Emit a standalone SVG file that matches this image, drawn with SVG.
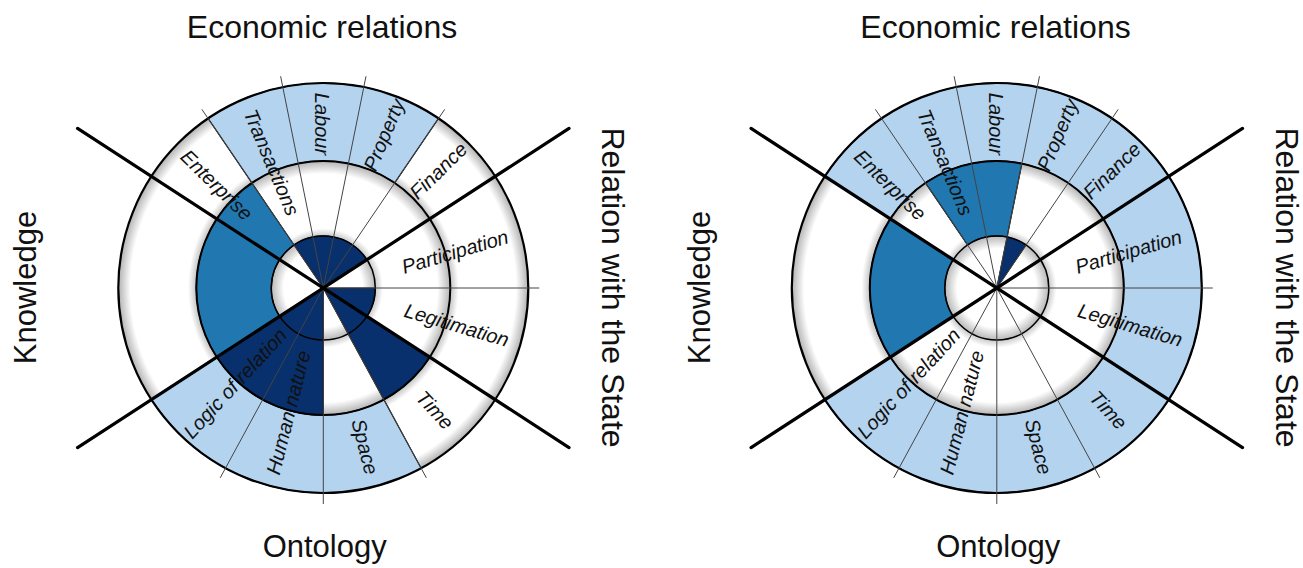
<svg xmlns="http://www.w3.org/2000/svg" xmlns:xlink="http://www.w3.org/1999/xlink" width="1303" height="568" viewBox="0 0 1303 568">
<style>
.lbl{font-family:"Liberation Sans",Arial,sans-serif;font-size:20px;font-style:italic;fill:#111;text-anchor:middle}
.ttl{font-family:"Liberation Sans",Arial,sans-serif;font-size:31px;fill:#111;text-anchor:middle}
.big{font-size:32px}
.light{fill:#b3d3ef;stroke:#111;stroke-width:1.2}
.med{fill:#2177b0;stroke:#111;stroke-width:1.2}
.dark{fill:#07306c;stroke:#111;stroke-width:1.2}
.thin{stroke:#444;stroke-width:1;fill:none}
.thick{stroke:#000;stroke-width:3.2;stroke-linecap:round;fill:none}
.ring{fill:none;stroke:#000}
</style>
<defs>
<radialGradient id="gOuter" gradientUnits="userSpaceOnUse" cx="0" cy="0" r="205">
<stop offset="0.619" stop-color="#c2c2c2"/><stop offset="0.66" stop-color="#fff"/><stop offset="0.94" stop-color="#fff"/><stop offset="1" stop-color="#b2b2b2"/>
</radialGradient>
<radialGradient id="gMid" gradientUnits="userSpaceOnUse" cx="0" cy="0" r="127">
<stop offset="0.409" stop-color="#c8c8c8"/><stop offset="0.47" stop-color="#fff"/><stop offset="0.9" stop-color="#fff"/><stop offset="1" stop-color="#b4b4b4"/>
</radialGradient>
<radialGradient id="gIn" gradientUnits="userSpaceOnUse" cx="0" cy="0" r="52">
<stop offset="0" stop-color="#fff"/><stop offset="0.76" stop-color="#fff"/><stop offset="1" stop-color="#b8b8b8"/>
</radialGradient>
<g id="base">
<circle r="205" fill="url(#gOuter)"/>
<circle r="127" fill="url(#gMid)"/>
<circle r="52" fill="url(#gIn)"/>
</g>
<g id="rings">
<circle class="ring" r="205" stroke-width="2.2"/>
<circle class="ring" r="127" stroke-width="2"/>
<circle class="ring" r="52" stroke-width="1.5"/>
</g>
<g id="dividers">
<path class="thin" d="M0,0L-121.41,-178.65M0,0L-42.69,-211.74M0,0L42.69,-211.74M0,0L121.41,-178.65M0,0L216,0M0,0L103.07,189.83M0,0L0,216M0,0L-103.07,189.83"/>
<path class="thick" d="M-245.73,-159.58L245.73,159.58M-245.73,159.58L245.73,-159.58"/>
</g>
<g id="labels">
<text class="lbl" transform="translate(-106.6,-103) rotate(44.4)" dy="0.35em">Enterprise</text>
<text class="lbl" transform="translate(-51.6,-125.7) rotate(67.2)" dy="0.35em">Transactions</text>
<text class="lbl" transform="translate(-1,-164) rotate(90)" dy="0.35em">Labour</text>
<text class="lbl" transform="translate(60.7,-153) rotate(-67.2)" dy="0.35em">Property</text>
<text class="lbl" transform="translate(115,-117.3) rotate(-44.4)" dy="0.35em">Finance</text>
<text class="lbl" transform="translate(131.7,-36.3) rotate(-16.5)" dy="0.35em">Participation</text>
<text class="lbl" transform="translate(133.4,37) rotate(16.5)" dy="0.35em">Legitimation</text>
<text class="lbl" transform="translate(111.7,122) rotate(47.25)" dy="0.35em">Time</text>
<text class="lbl" transform="translate(41.7,158.7) rotate(75.75)" dy="0.35em">Space</text>
<text class="lbl" transform="translate(-35,124.5) rotate(-75.75)" dy="0.35em">Human nature</text>
<text class="lbl" transform="translate(-88.3,95.3) rotate(-47.25)" dy="0.35em">Logic of relation</text>
</g>
</defs>

<g id="chart-left" transform="translate(323.3,288)">
<use xlink:href="#base"/>
<g id="left-fills">
<path class="light" d="M-115.23,-169.55A205,205 0 0 1 115.23,-169.55L71.38,-105.04A127,127 0 0 0 -71.38,-105.04Z"/>
<path class="light" d="M97.82,180.16A205,205 0 0 1 -171.93,111.65L-106.51,69.17A127,127 0 0 0 60.6,111.61Z"/>
<path class="med" d="M-106.51,69.17A127,127 0 0 1 -71.38,-105.04L-29.23,-43.01A52,52 0 0 0 -43.61,28.32Z"/>
<path class="dark" d="M0,0L-29.23,-43.01A52,52 0 0 1 43.61,-28.32Z"/>
<path class="dark" d="M0,0L52,0A52,52 0 0 1 43.61,28.32L106.51,69.17A127,127 0 0 1 60.6,111.61Z"/>
<path class="dark" d="M0,0L0,127A127,127 0 0 1 -106.51,69.17Z"/>
</g>
<use xlink:href="#rings"/>
<use xlink:href="#dividers"/>
<use xlink:href="#labels"/>
</g>

<g id="chart-right" transform="translate(996.8,288)">
<use xlink:href="#base"/>
<g id="right-fills">
<path class="light" d="M-171.93,-111.65A205,205 0 1 1 -171.93,111.65L-106.51,69.17A127,127 0 1 0 -106.51,-69.17Z"/>
<path class="med" d="M-71.38,-105.04A127,127 0 0 1 25.1,-124.49L10.28,-50.97A52,52 0 0 0 -29.23,-43.01Z"/>
<path class="med" d="M-106.51,69.17A127,127 0 0 1 -106.51,-69.17L-43.61,-28.32A52,52 0 0 0 -43.61,28.32Z"/>
<path class="dark" d="M0,0L10.28,-50.97A52,52 0 0 1 29.23,-43.01Z"/>
</g>
<use xlink:href="#rings"/>
<use xlink:href="#dividers"/>
<use xlink:href="#labels"/>
</g>

<g id="titles-left">
<text class="ttl big" x="322" y="37.5">Economic relations</text>
<text class="ttl" x="324.7" y="557">Ontology</text>
<text class="ttl" transform="translate(36,287.5) rotate(-90)">Knowledge</text>
<text class="ttl big" transform="translate(602,287.5) rotate(90)">Relation with the State</text>
</g>
<g id="titles-right">
<text class="ttl big" x="995.5" y="37.5">Economic relations</text>
<text class="ttl" x="998.2" y="557">Ontology</text>
<text class="ttl" transform="translate(709.5,287.5) rotate(-90)">Knowledge</text>
<text class="ttl big" transform="translate(1275.5,287.5) rotate(90)">Relation with the State</text>
</g>
</svg>
